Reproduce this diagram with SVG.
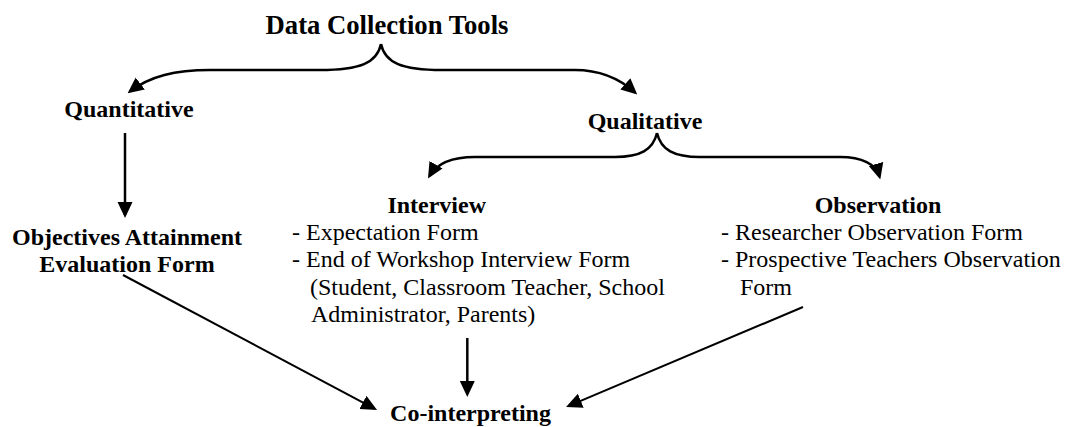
<svg xmlns="http://www.w3.org/2000/svg" width="1067" height="427" viewBox="0 0 1067 427">
<style>
text{font-family:"Liberation Serif","Times New Roman",serif;font-size:24px;fill:#000}
.b{font-weight:bold}
.c{text-anchor:middle}
.t{font-size:26.67px}
.ln{fill:none;stroke:#000;stroke-width:2.5}
.dg{fill:none;stroke:#000;stroke-width:2}
</style>
<defs>
<marker id="ah" viewBox="0 0 16 16" markerWidth="16" markerHeight="16" refX="13" refY="8" orient="auto" markerUnits="userSpaceOnUse"><path d="M0,0.5 L16,8 L0,15.5 z" fill="#000"/></marker>
</defs>
<rect width="1067" height="427" fill="#fff"/>
<g id="connectors">
<path class="ln" d="M381,44 C377,63 360,70 320,70 L210,70 C175,70 150,76 130,91.5" marker-end="url(#ah)"/>
<path class="ln" d="M381,44 C385,63 402,70 442,70 L575,70 C600,70 620,79 635,92.5" marker-end="url(#ah)"/>
<path class="ln" d="M657,133 C653,150 640,157 615,157 L475,157 C452,157 437,163 429.5,176" marker-end="url(#ah)"/>
<path class="ln" d="M657,133 C661,150 674,157 700,157 L840,157 C862,157 876,164 879.5,176.5" marker-end="url(#ah)"/>
<path class="ln" d="M125,133 L125,215" marker-end="url(#ah)"/>
<path class="ln" d="M467.3,338 L467.3,394" marker-end="url(#ah)"/>
<path class="dg" d="M123,275 L374.4,408.6" marker-end="url(#ah)"/>
<path class="dg" d="M803,307 L568.8,405.8" marker-end="url(#ah)"/>
</g>
<g id="data-collection-tools"><text class="b c t" x="387" y="33.5">Data Collection Tools</text></g>
<g id="quantitative"><text class="b c" x="129" y="117">Quantitative</text></g>
<g id="qualitative"><text class="b c" x="645" y="129">Qualitative</text></g>
<g id="objectives">
<text class="b c" x="127" y="245">Objectives Attainment</text>
<text class="b c" x="127" y="272">Evaluation Form</text>
</g>
<g id="interview">
<text class="b c" x="436.7" y="212.7">Interview</text>
<text x="292" y="239.5">- Expectation Form</text>
<text x="292" y="267.3">- End of Workshop Interview Form</text>
<text x="310" y="295">(Student, Classroom Teacher, School</text>
<text x="311" y="321.7">Administrator, Parents)</text>
</g>
<g id="observation">
<text class="b c" x="878" y="212.7">Observation</text>
<text x="721" y="239.5">- Researcher Observation Form</text>
<text x="721" y="267.3">- Prospective Teachers Observation</text>
<text x="740" y="295">Form</text>
</g>
<g id="co-interpreting"><text class="b c" x="470.5" y="421">Co-interpreting</text></g>
</svg>
